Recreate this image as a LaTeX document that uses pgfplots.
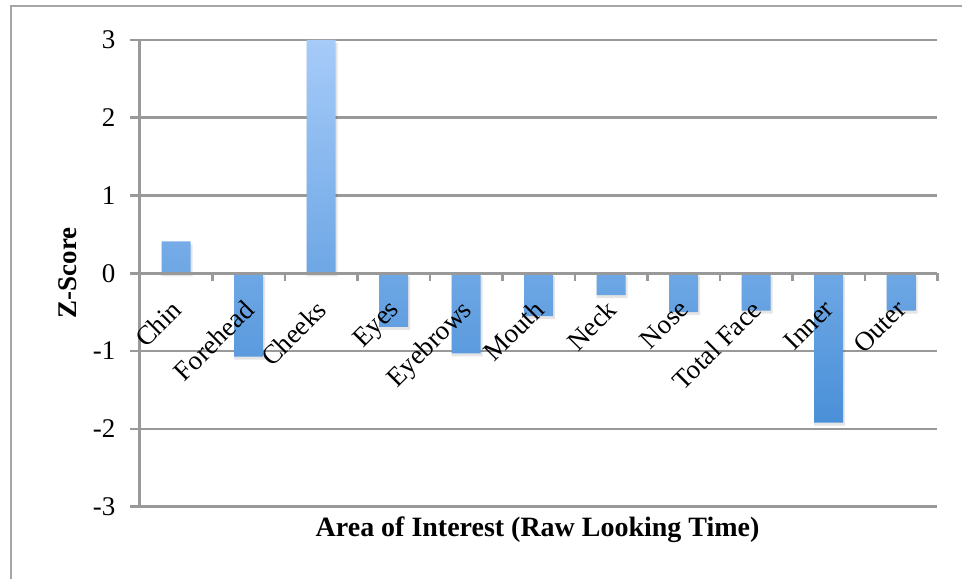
\documentclass[border=0pt]{standalone}
\usepackage{fontspec}
\setmainfont{Liberation Serif}
\usepackage{pgfplots}
\pgfplotsset{compat=1.18}
\definecolor{gridgray}{RGB}{153,153,153}
\definecolor{framegray}{RGB}{165,165,165}
\definecolor{barlight}{RGB}{166,203,249}
\definecolor{bardark}{RGB}{74,144,216}
\newcommand{\chartfont}{\fontsize{27}{31}\selectfont}
\pgfplotsset{
  layers/labels over bars/.define layer set={
    axis background,axis grid,main,axis ticks,axis lines,axis tick labels,axis descriptions,axis foreground
  }{/pgfplots/layers/standard},
}
\begin{document}
\begin{tikzpicture}[x=1pt,y=1pt]
\path (0,0) rectangle (963,-579);
\draw[framegray, line width=1.5pt] (11,-579) -- (11,-6) -- (963,-6);
\begin{axis}[
    set layers=labels over bars,
    at={(140pt,-507pt)}, anchor=south west,
    scale only axis, width=798pt, height=467pt,
    xmin=0.5, xmax=11.5, ymin=-3, ymax=3,
    axis x line=middle, axis y line=left,
    axis line style={gridgray, line width=2.5pt, -},
    y axis line style={line width=3pt},
    hide obscured x ticks=false, hide obscured y ticks=false,
    ytick={-3,-2,-1,0,1,2,3},
    ymajorgrids, major grid style={gridgray, line width=2.5pt},
    tick align=outside, major tick length=10pt,
    major y tick style={gridgray, line width=2.5pt},
    xtick={1,...,11},
    xticklabels={Chin, Forehead, Cheeks, Eyes, Eyebrows, Mouth, Neck, Nose, Total Face, Inner, Outer},
    major x tick style={draw=none},
    minor xtick={0.5,1.5,...,11.5},
    minor tick length=8pt,
    minor x tick style={gridgray, line width=2.5pt},
    /pgf/number format/assume math mode=true,
    yticklabel style={font=\chartfont, xshift=-11pt},
    xticklabel style={font=\chartfont, rotate=45, anchor=north east, xshift=-11.5pt, yshift=-3pt},
]
% soft shadow under each bar
\addplot[ybar, bar width=31pt, draw=none, fill=black, fill opacity=0.10, bar shift=1pt,
    forget plot, transform canvas={yshift=-3pt}]
    coordinates {(1,0.41) (2,-1.07) (3,3.0) (4,-0.69) (5,-1.03) (6,-0.55) (7,-0.28) (8,-0.50) (9,-0.48) (10,-1.92) (11,-0.48)};
\addplot[ybar, bar width=29pt, draw=none, top color=barlight, bottom color=bardark]
    coordinates {(1,0.41) (2,-1.07) (3,3.0) (4,-0.69) (5,-1.03) (6,-0.55) (7,-0.28) (8,-0.50) (9,-0.48) (10,-1.92) (11,-0.48)};
\end{axis}
\node[rotate=90, font=\bfseries\chartfont] at (68,-273) {Z-Score};
\node[font=\bfseries\fontsize{28}{32}\selectfont] at (538,-530) {Area of Interest (Raw Looking Time)};
\end{tikzpicture}
\end{document}
